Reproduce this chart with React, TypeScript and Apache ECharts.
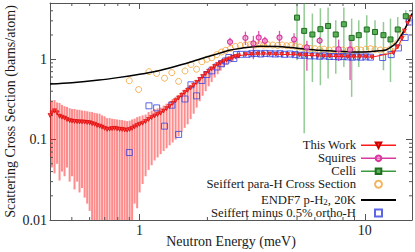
import React, { useEffect, useRef } from 'react';
import * as echarts from 'echarts';

const FONT = "'Liberation Serif', 'DejaVu Serif', serif";
const AXIS = '#555555';
const RED = '#ff1a1a';
const SQ_COLOR = '#d9389e';
const CE_COLOR = '#3c9a3c';
const ORANGE = '#f2a033';
const BLUE = '#3340e0';
const TEXT = '#1a1a1a';
const ENDF_NAME = 'ENDF7 p-H2, 20K';

const X_MIN = 0.4;
const X_MAX = 16.2;
const Y_MIN = 0.01;
const Y_MAX = 5;

// ---- This Work ----
const twEnergy = [
  0.400, 0.408, 0.419, 0.430, 0.441, 0.452, 0.464, 0.476, 0.489, 0.501, 0.514, 0.528, 0.541, 0.555, 0.570, 0.585,
  0.600, 0.615, 0.631, 0.647, 0.664, 0.681, 0.699, 0.717, 0.736, 0.755, 0.774, 0.794, 0.815, 0.836, 0.858, 0.880,
  0.903, 0.926, 0.950, 0.975, 1.000,
  1.031, 1.063, 1.096, 1.131, 1.166, 1.202, 1.240, 1.278, 1.318, 1.359, 1.402, 1.445, 1.490, 1.537, 1.585, 1.634,
  1.685, 1.738, 1.792, 1.848, 1.905, 1.965, 2.026, 2.089, 2.154, 2.221, 2.290, 2.360, 2.434, 2.510, 2.590, 2.670, 2.750,
  2.96, 3.14, 3.34, 3.55, 3.78, 4.02, 4.27, 4.54, 4.83, 5.14, 5.46, 5.81, 6.18, 6.57, 6.98, 7.43, 7.90, 8.40, 8.93,
  9.50, 10.10, 10.75,
  13.4, 14.0, 14.6, 15.0, 15.5, 15.8,
];
const twSigma = [
  0.200, 0.215, 0.228, 0.215, 0.195, 0.190, 0.185, 0.178, 0.172, 0.170, 0.168, 0.167, 0.166, 0.166, 0.165, 0.163,
  0.162, 0.158, 0.155, 0.150, 0.147, 0.143, 0.138, 0.134, 0.135, 0.137, 0.138, 0.136, 0.134, 0.134, 0.132, 0.131,
  0.134, 0.138, 0.144, 0.150, 0.155,
  0.160, 0.168, 0.178, 0.188, 0.197, 0.205, 0.213, 0.227, 0.243, 0.260, 0.283, 0.305, 0.330, 0.355, 0.385, 0.410,
  0.440, 0.475, 0.515, 0.560, 0.610, 0.660, 0.710, 0.760, 0.810, 0.860, 0.900, 0.940, 0.980, 1.010, 1.050, 1.080, 1.100,
  1.14, 1.15, 1.16, 1.16, 1.16, 1.15, 1.15, 1.14, 1.14, 1.13, 1.12, 1.11, 1.10, 1.09, 1.09, 1.08, 1.08, 1.07, 1.07,
  1.07, 1.07, 1.06,
  1.20, 1.42, 1.80, 2.25, 2.80, 3.30,
];
const twLow = [
  0.060, 0.045, 0.038, 0.050, 0.031, 0.040, 0.035, 0.045, 0.030, 0.035, 0.024, 0.030, 0.022, 0.025, 0.019, 0.016,
  0.013, 0.009, 0.006, 0.007, 0.005, 0.004, 0.005, 0.004, 0.005, 0.004, 0.005, 0.004, 0.006, 0.005, 0.007, 0.006,
  0.010, 0.009, 0.016, 0.014, 0.022,
  0.028, 0.035, 0.042, 0.048, 0.055, 0.060, 0.066, 0.072, 0.078, 0.085, 0.092, 0.100, 0.110, 0.125, 0.140, 0.155,
  0.180, 0.210, 0.250, 0.300, 0.350, 0.400, 0.460, 0.520, 0.590, 0.650, 0.720, 0.790, 0.850, 0.900, 0.950, 1.000, 1.030,
  1.11, 1.12, 1.13, 1.13, 1.13, 1.12, 1.12, 1.11, 1.11, 1.10, 1.09, 1.08, 1.07, 1.06, 1.06, 1.05, 1.05, 1.04, 1.04,
  1.04, 1.04, 1.03,
  1.16, 1.37, 1.74, 2.17, 2.70, 3.20,
];
const twHigh = [
  0.310, 0.300, 0.310, 0.290, 0.285, 0.270, 0.260, 0.255, 0.246, 0.240, 0.240, 0.235, 0.235, 0.230, 0.228, 0.225,
  0.222, 0.220, 0.215, 0.212, 0.210, 0.200, 0.195, 0.185, 0.185, 0.182, 0.180, 0.178, 0.176, 0.175, 0.172, 0.170,
  0.172, 0.178, 0.182, 0.190, 0.195,
  0.200, 0.205, 0.220, 0.230, 0.240, 0.245, 0.250, 0.265, 0.280, 0.300, 0.320, 0.340, 0.360, 0.390, 0.420, 0.450,
  0.480, 0.510, 0.550, 0.590, 0.640, 0.690, 0.740, 0.790, 0.840, 0.890, 0.930, 0.970, 1.010, 1.040, 1.080, 1.110, 1.130,
  1.17, 1.18, 1.19, 1.19, 1.19, 1.18, 1.18, 1.17, 1.17, 1.16, 1.15, 1.14, 1.13, 1.12, 1.12, 1.11, 1.11, 1.10, 1.10,
  1.10, 1.10, 1.09,
  1.24, 1.47, 1.86, 2.33, 2.90, 3.40,
];

// ---- Squires ----
const sqEnergy = [2.52, 2.95, 3.20, 3.38, 3.60, 4.18, 4.85, 5.53, 6.30, 7.65, 8.60];
const sqSigma = [1.64, 1.84, 1.57, 1.86, 1.69, 1.86, 1.76, 1.40, 1.70, 1.33, 1.32];
const sqLow = [1.45, 1.50, 1.00, 1.55, 1.50, 1.50, 1.45, 0.72, 1.55, 0.95, 0.55];
const sqHigh = [1.85, 2.20, 1.95, 2.25, 1.90, 2.25, 2.10, 1.70, 1.90, 1.75, 1.70];

// ---- Celli ----
const ceEnergy = [5.00, 5.38, 5.85, 6.35, 6.87, 7.43, 8.07, 8.74, 9.40, 10.2, 11.1, 12.1, 13.0, 14.0, 15.2];
const ceSigma = [3.29, 2.25, 2.03, 2.36, 2.59, 2.03, 2.72, 1.84, 1.99, 2.34, 2.18, 1.99, 1.76, 2.34, 3.42];
const ceLow = [0.97, 0.12, 0.52, 0.475, 0.575, 0.66, 0.80, 0.34, 0.80, 1.29, 1.23, 0.73, 0.52, 1.72, 3.00];
const ceHigh = [6.00, 6.00, 3.70, 4.30, 4.40, 3.05, 4.40, 3.20, 3.05, 3.52, 3.05, 2.90, 3.20, 3.35, 4.06];

// ---- Seiffert para-H Cross Section ----
const spEnergy = [
  0.90, 0.99, 1.10, 1.19, 1.29, 1.39, 1.49, 1.59, 1.69, 1.79, 1.89, 1.99, 2.09, 2.20, 2.31, 2.41, 2.53, 2.66, 2.80,
  2.95, 3.10, 3.25, 3.40, 3.55, 3.70, 3.90, 4.10, 4.30, 4.50, 4.70, 4.90, 5.15, 5.40, 5.70, 6.00, 6.30, 6.60, 6.95,
  7.30, 7.65, 8.00, 8.40, 8.80, 9.20, 9.60, 10.1, 10.6, 11.1, 11.7, 12.3, 12.9, 13.5, 14.0, 14.8, 15.7,
];
const spSigma = [
  0.54, 0.42, 0.70, 0.665, 0.58, 0.68, 0.53, 0.715, 0.86, 0.75, 0.93, 1.00, 1.04, 1.14, 1.23, 1.29, 1.36, 1.44, 1.48,
  1.50, 1.52, 1.50, 1.52, 1.50, 1.52, 1.50, 1.48, 1.50, 1.47, 1.48, 1.45, 1.42, 1.38, 1.36, 1.35, 1.32, 1.33, 1.30,
  1.31, 1.28, 1.30, 1.28, 1.30, 1.32, 1.30, 1.33, 1.35, 1.32, 1.30, 1.28, 1.32, 1.45, 1.60, 2.09, 2.90,
];

// ---- ENDF7 p-H2, 20K ----
const endfEnergy = [
  0.40, 0.50, 0.66, 0.80, 1.00, 1.20, 1.41, 1.70, 2.00, 2.27, 2.50, 2.78, 3.40, 4.30, 5.14, 6.30, 7.60, 9.20, 10.5,
  11.66, 12.4, 13.0, 13.74, 14.3, 14.9, 15.5, 16.2,
];
const endfSigma = [
  0.49, 0.51, 0.55, 0.59, 0.65, 0.715, 0.80, 0.93, 1.07, 1.19, 1.29, 1.36, 1.45, 1.43, 1.36, 1.29, 1.26, 1.23, 1.24,
  1.27, 1.30, 1.40, 1.58, 1.85, 2.25, 2.80, 3.70,
];

// ---- Seiffert minus 0.5% ortho-H ----
const smEnergy = [
  0.90, 1.10, 1.19, 1.29, 1.39, 1.49, 1.59, 1.69, 1.79, 1.89, 1.99, 2.09, 2.20, 2.31, 2.41, 2.49, 2.62, 2.69, 2.81,
  3.00, 3.15, 3.30, 3.45, 3.60, 3.80, 4.00, 4.20, 4.40, 4.65, 4.90, 5.15, 5.40, 5.70, 6.00, 6.30, 6.60, 6.95, 7.30,
  7.65, 8.00, 8.40, 8.80, 9.20, 9.60, 10.1, 10.6, 12.0, 13.1, 14.1, 15.1, 15.8,
];
const smSigma = [
  0.069, 0.263, 0.248, 0.147, 0.268, 0.116, 0.32, 0.48, 0.35, 0.544, 0.645, 0.716, 0.80, 0.88, 0.95, 1.05, 1.02, 1.14,
  1.15, 1.15, 1.17, 1.18, 1.16, 1.18, 1.17, 1.16, 1.17, 1.15, 1.16, 1.14, 1.12, 1.12, 1.10, 1.10, 1.09, 1.10, 1.08,
  1.08, 1.07, 1.08, 1.07, 1.06, 1.07, 1.06, 1.07, 1.06, 1.05, 1.14, 1.38, 1.86, 2.90,
];

// ---- minor tick positions ----
const xMinorTicks = [0.5, 0.6, 0.7, 0.8, 0.9, 2, 3, 4, 5, 6, 7, 8, 9];
const yMinorTicks = [0.02, 0.03, 0.04, 0.05, 0.06, 0.07, 0.08, 0.09, 0.2, 0.3, 0.4, 0.5, 0.6, 0.7, 0.8, 0.9, 2, 3, 4];

function pairs(xs: number[], ys: number[]) {
  return xs.map((x, i) => [x, ys[i]]);
}

function errorBars(id: string, energy: number[], low: number[], high: number[], color: string, width: number) {
  return {
    type: 'custom',
    name: id,
    silent: true,
    clip: true,
    data: energy.map((e, i) => [e, low[i], high[i]]),
    encode: { x: 0, y: [1, 2] },
    renderItem: (params: any, api: any) => {
      const p1 = api.coord([api.value(0), api.value(1)]);
      const p2 = api.coord([api.value(0), api.value(2)]);
      return {
        type: 'line',
        shape: { x1: p1[0], y1: p1[1], x2: p2[0], y2: p2[1] },
        style: { stroke: color, lineWidth: width },
      };
    },
  };
}

const textBase = { fontFamily: FONT, color: TEXT, fontWeight: 'normal' };

function makeAxis(extra: any) {
  return {
    type: 'log',
    logBase: 10,
    axisLine: { show: true, onZero: false, lineStyle: { color: AXIS, width: 1 } },
    axisTick: { show: true, inside: true, length: 6, lineStyle: { color: AXIS, width: 1 } },
    splitLine: { show: false },
    minorTick: { show: false },
    minorSplitLine: { show: false },
    ...extra,
  };
}

function buildOption() {
  return {
    animation: false,
    backgroundColor: '#ffffff',
    grid: { left: 50, right: 3, top: 3, bottom: 32, containLabel: false, outerBoundsMode: 'none' },
    xAxis: [
      makeAxis({
        min: X_MIN,
        max: X_MAX,
        position: 'bottom',
        name: 'Neutron Energy (meV)',
        nameLocation: 'middle',
        nameGap: 14,
        nameMoveOverlap: false,
        nameTextStyle: { ...textBase, fontSize: 14 },
        axisLabel: { ...textBase, fontSize: 14, margin: 3, showMinLabel: false, showMaxLabel: false },
      }),
      makeAxis({ min: X_MIN, max: X_MAX, position: 'top', axisLabel: { show: false } }),
    ],
    yAxis: [
      makeAxis({
        min: Y_MIN,
        max: Y_MAX,
        position: 'left',
        name: 'Scattering Cross Section (barns/atom)',
        nameLocation: 'middle',
        nameGap: 33,
        nameMoveOverlap: false,
        nameTextStyle: { ...textBase, fontSize: 14 },
        axisLabel: { ...textBase, fontSize: 14, margin: 3, showMaxLabel: false },
      }),
      makeAxis({ min: Y_MIN, max: Y_MAX, position: 'right', axisLabel: { show: false } }),
    ],
    legend: {
      orient: 'vertical',
      right: 18,
      top: 138.8,
      align: 'right',
      padding: 0,
      itemGap: 0,
      itemWidth: 35,
      itemHeight: 7,
      symbolKeepAspect: true,
      selectedMode: false,
      textStyle: {
        ...textBase,
        fontSize: 12.7,
        lineHeight: 12.4,
        rich: {
          sub: { fontFamily: FONT, color: TEXT, fontWeight: 'normal', fontSize: 9, lineHeight: 6, padding: [6.4, 0, 0, 0], verticalAlign: 'bottom' },
        },
      },
      formatter: (name: string) => (name === ENDF_NAME ? 'ENDF7 p-H{sub|2}, 20K' : name),
      data: [
        { name: 'This Work', lineStyle: { width: 1.5, opacity: 1 } },
        { name: 'Squires', lineStyle: { opacity: 1, width: 1.5, color: SQ_COLOR } },
        { name: 'Celli', lineStyle: { opacity: 1, width: 1.5, color: CE_COLOR } },
        { name: 'Seiffert para-H Cross Section', icon: 'path://M5,0A5,5,0,1,1,4.99,0Z' },
        { name: ENDF_NAME, itemStyle: { opacity: 0 }, lineStyle: { width: 2, color: '#000', opacity: 1 } },
        { name: 'Seiffert minus 0.5% ortho-H', icon: 'path://M0,0L8,0L8,8L0,8Z' },
      ],
    },
    series: [
      errorBars('_twErr', twEnergy, twLow, twHigh, 'rgba(255,25,25,0.5)', 2),
      {
        type: 'line',
        name: 'This Work',
        data: pairs(twEnergy, twSigma),
        symbol: 'triangle',
        symbolRotate: 180,
        symbolSize: 4,
        showSymbol: true,
        showAllSymbol: true,
        lineStyle: { color: RED, width: 1 },
        itemStyle: { color: '#ff3a3a', borderColor: '#d00000', borderWidth: 0.6 },
        silent: true,
      },
      errorBars('_sqErr', sqEnergy, sqLow, sqHigh, 'rgba(217,56,158,0.85)', 1.3),
      {
        type: 'line',
        name: 'Squires',
        data: pairs(sqEnergy, sqSigma),
        symbol: 'circle',
        symbolSize: 5,
        showSymbol: true,
        showAllSymbol: true,
        lineStyle: { color: SQ_COLOR, width: 1, opacity: 0 },
        itemStyle: { color: 'rgba(240,150,210,0.6)', borderColor: SQ_COLOR, borderWidth: 1.2 },
        silent: true,
      },
      errorBars('_ceErr', ceEnergy, ceLow, ceHigh, 'rgba(60,160,60,0.55)', 1.5),
      {
        type: 'line',
        name: 'Celli',
        data: pairs(ceEnergy, ceSigma),
        symbol: 'rect',
        symbolSize: 5,
        showSymbol: true,
        showAllSymbol: true,
        lineStyle: { color: CE_COLOR, width: 1, opacity: 0 },
        itemStyle: { color: '#58b058', borderColor: '#1f6e1f', borderWidth: 1 },
        silent: true,
      },
      {
        type: 'scatter',
        name: 'Seiffert para-H Cross Section',
        data: pairs(spEnergy, spSigma),
        symbol: 'circle',
        symbolSize: 6,
        itemStyle: { color: 'rgba(255,255,255,0)', borderColor: ORANGE, borderWidth: 1 },
        silent: true,
      },
      {
        type: 'line',
        name: ENDF_NAME,
        data: pairs(endfEnergy, endfSigma),
        smooth: 0.3,
        symbol: 'none',
        showSymbol: false,
        lineStyle: { color: '#000', width: 1.5 },
        itemStyle: { color: '#000' },
        silent: true,
      },
      {
        type: 'scatter',
        name: 'Seiffert minus 0.5% ortho-H',
        data: pairs(smEnergy, smSigma),
        symbol: 'rect',
        symbolSize: 6,
        itemStyle: { color: 'rgba(255,255,255,0)', borderColor: BLUE, borderWidth: 1 },
        silent: true,
      },
      {
        type: 'custom',
        name: '_xMinor',
        silent: true,
        data: xMinorTicks.map((v) => [v, 1]),
        renderItem: (params: any, api: any) => {
          const cs = params.coordSys;
          const px = api.coord([api.value(0), 1])[0];
          const yb = cs.y + cs.height;
          const yt = cs.y;
          return {
            type: 'group',
            children: [
              { type: 'line', shape: { x1: px, y1: yb, x2: px, y2: yb - 3 }, style: { stroke: AXIS, lineWidth: 1 } },
              { type: 'line', shape: { x1: px, y1: yt, x2: px, y2: yt + 3 }, style: { stroke: AXIS, lineWidth: 1 } },
            ],
          };
        },
      },
      {
        type: 'custom',
        name: '_yMinor',
        silent: true,
        data: yMinorTicks.map((v) => [1, v]),
        renderItem: (params: any, api: any) => {
          const cs = params.coordSys;
          const py = api.coord([1, api.value(1)])[1];
          const xl = cs.x;
          const xr = cs.x + cs.width;
          return {
            type: 'group',
            children: [
              { type: 'line', shape: { x1: xl, y1: py, x2: xl + 3, y2: py }, style: { stroke: AXIS, lineWidth: 1 } },
              { type: 'line', shape: { x1: xr, y1: py, x2: xr - 3, y2: py }, style: { stroke: AXIS, lineWidth: 1 } },
            ],
          };
        },
      },
    ],
  };
}

export default function App() {
  const ref = useRef<HTMLDivElement>(null);
  useEffect(() => {
    if (!ref.current) return;
    const chart = echarts.init(ref.current, null, { renderer: 'svg' });
    chart.setOption(buildOption() as any);
    return () => {
      chart.dispose();
    };
  }, []);
  return <div ref={ref} style={{ position: 'absolute', left: 0, top: 0, width: 415, height: 252 }} />;
}
